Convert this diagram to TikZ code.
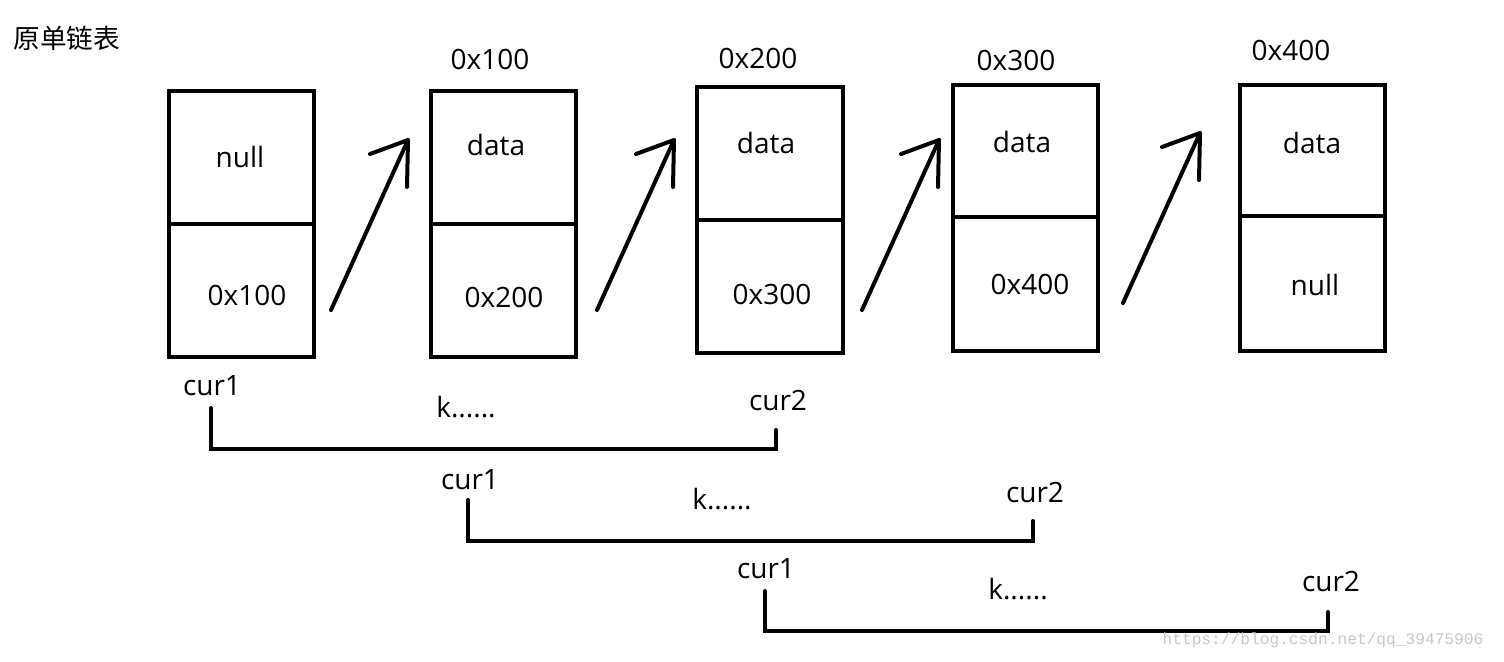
\documentclass[tikz,border=0pt]{standalone}
\usepackage{fontspec}
\setmainfont{Open Sans}
\newfontfamily\cjkfont{Noto Sans CJK SC}
\newfontfamily\markfont{Liberation Mono}
\usetikzlibrary{arrows.meta}

\begin{document}
\begin{tikzpicture}[x=0.5pt,y=-0.5pt,line width=2pt,
    lbl/.style={inner sep=0pt,font=\fontsize{14}{16}\selectfont},
  ]
    \useasboundingbox (0,0) rectangle (1504,661);
    \node[inner sep=0pt,font=\cjkfont\fontsize{13.3}{16}\selectfont] (title) at (67,38) {原单链表};
    % the five cells: left/right/top/divider/bottom, upper text, lower text
    \foreach \l/\r/\t/\m/\b/\ux/\uy/\hi/\lx/\ly/\lw[count=\n] in {
        169/314/91/224/357/240/157/null/247/295/0x100,
        431/576/91/224/357/496/145/data/504/297/0x200,
        697/843/87/220/353/766/143/data/772/294/0x300,
        953/1098/85/217/351/1022/142/data/1030/284/0x400,
        1240/1385/85/216/351/1312/143/data/1315/285/null}{
            \draw (\l,\t) rectangle (\r,\b);
            \draw (\l,\m) -- (\r,\m);
            \node[lbl] (val\n) at (\ux,\uy) {\hi};
            \node[lbl] (ptr\n) at (\lx,\ly) {\lw};
        }
    % addresses over the cells
    \foreach \x/\y/\a[count=\n] in {490/59/0x100,758/58/0x200,1016/60/0x300,1291/50/0x400}{
            \node[lbl] (addr\n) at (\x,\y) {\a};
        }
    % hand drawn arrows between the cells
    \foreach \x/\y[count=\n] in {331/310,597/310,862/310,1123/303}{
            \coordinate (tail\n) at (\x,\y);
            \coordinate (tip\n) at (\x+77,\y-170);
            \draw[line cap=round,line join=round] (tail\n) -- (tip\n) -- ++(-38,14);
            \draw[line cap=round,line join=round] (tip\n) -- ++(-1,47);
        }
    % cur1 ... cur2 brackets
    \foreach \lx/\lt/\rx/\rt/\by/\cx/\cy/\dx/\dy/\kx/\ky[count=\n] in {
        211/408/776/430/449/212/386/778/400/466/407,
        468/500/1033/521/541/470/480/1035/492/722/499,
        765/591/1328/612/631/766/569/1331/581/1018/589}{
            \node[lbl] (cura\n) at (\cx,\cy) {cur1};
            \node[lbl] (curb\n) at (\dx,\dy) {cur2};
            \node[lbl] (gap\n) at (\kx,\ky) {k......};
            \coordinate (lt\n) at (\lx,\lt);
            \coordinate (rb\n) at (\rx,\by);
            \coordinate (rt\n) at (\rx,\rt);
            \draw[line cap=round] (lt\n) |- (rb\n) -- (rt\n);
        }
    \node[inner sep=0pt,font=\markfont\fontsize{8.1}{10}\selectfont,text=black!22] (mark) at (1323,640) {https://blog.csdn.net/qq\_39475906};
\end{tikzpicture}
\end{document}
